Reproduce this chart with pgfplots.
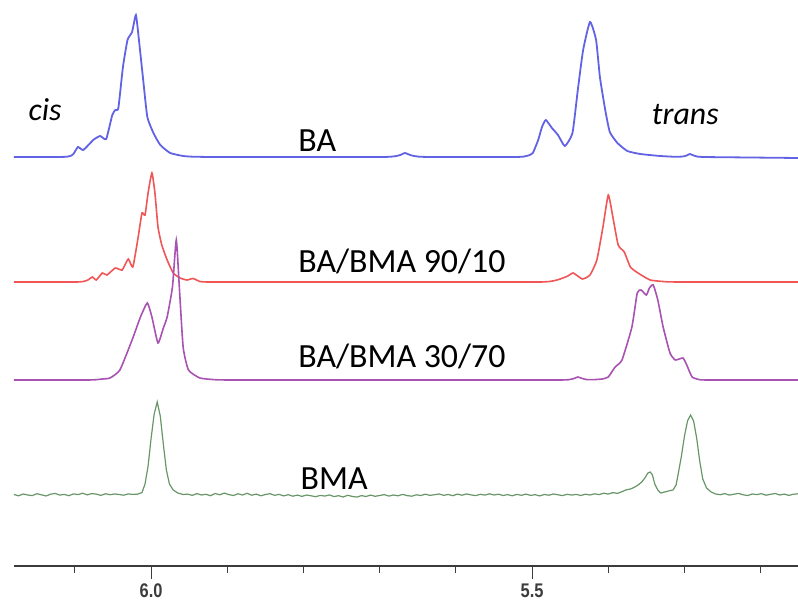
\documentclass[border=0pt]{standalone}
\usepackage{fontspec}
\setmainfont{Carlito}
\newfontfamily\tickfont{Liberation Sans}
\usepackage{graphicx}
\usepackage{pgfplots}
\pgfplotsset{compat=1.18}

\definecolor{baBlue}{RGB}{98,98,228}
\definecolor{mixRed}{RGB}{240,86,86}
\definecolor{mixPurple}{RGB}{168,82,178}
\definecolor{bmaGreen}{RGB}{104,150,104}
\definecolor{axisGrey}{RGB}{60,60,60}

\begin{document}
\begin{tikzpicture}
\useasboundingbox (-14bp,-38bp) rectangle (784bp,566bp);
\begin{axis}[
  at={(0,0)}, anchor=south west,
  scale only axis, width=784bp, height=566bp,
  xmin=5.151, xmax=6.180, ymin=0, ymax=566,
  x dir=reverse,
  axis x line=bottom, axis y line=none,
  x axis line style={-, draw=axisGrey, line width=1.3bp},
  xtick={6.0,5.5},
  xticklabels={\scalebox{1}[1.2]{6.0},\scalebox{1}[1.2]{5.5}},
  minor xtick={6.1,5.9,5.8,5.7,5.6,5.4,5.3,5.2},
  tick align=outside,
  major tick length=13bp, minor tick length=7bp,
  every tick/.style={draw=axisGrey, line width=1bp},
  xticklabel style={font=\tickfont\bfseries\fontsize{16.5}{16.5}\selectfont, text=axisGrey, inner sep=0pt, anchor=north, yshift=-5bp},
  clip=true,
]

% BA
\addplot[baBlue, line width=1.8bp, smooth, tension=0.3] coordinates {
(6.180,409) (6.146,409) (6.124,409) (6.112,409.2) (6.106,410) (6.102,412) (6.096,419) (6.089,416)
(6.076,426) (6.067,430) (6.059,427) (6.051,451) (6.047,456) (6.043,458)
(6.037,499) (6.031,526) (6.025,534) (6.020,551) (6.016,526) (6.010,483)
(6.005,449) (5.997,433) (5.988,421) (5.975,413) (5.958,410) (5.945,409.3) (5.920,409)
(5.860,409) (5.760,409) (5.715,409) (5.695,409) (5.685,409.3) (5.678,410) (5.673,411) (5.667,413)
(5.660,411) (5.655,410) (5.648,409.3) (5.635,409) (5.600,409) (5.545,409) (5.522,409) (5.512,409.3)
(5.505,410.5) (5.499,413) (5.492,426) (5.487,439) (5.482,446) (5.474,438) (5.466,431)
(5.457,420) (5.447,433) (5.440,476) (5.433,516) (5.424,544) (5.416,526)
(5.411,489) (5.404,456) (5.398,434) (5.388,423) (5.375,415) (5.358,412)
(5.332,410) (5.312,409.2) (5.302,409.5) (5.297,410.5) (5.293,412) (5.288,410.5) (5.283,409.4)
(5.275,409) (5.255,408.8) (5.215,408.5) (5.151,408)
};

% BA/BMA 90/10
\addplot[mixRed, line width=1.6bp, smooth, tension=0.3] coordinates {
(6.180,284) (6.140,284) (6.112,284) (6.097,284) (6.089,284.5) (6.083,286) (6.077,289) (6.072,286) (6.064,293)
(6.058,291) (6.047,298) (6.038,296) (6.030,307) (6.024,299) (6.017,329)
(6.012,353) (6.008,351) (6.004,373) (5.999,393) (5.995,373) (5.991,339)
(5.986,321) (5.979,306) (5.971,293) (5.962,288) (5.953,286) (5.945,287.5)
(5.936,284.5) (5.926,284) (5.905,284) (5.860,284) (5.750,284) (5.620,284) (5.545,284)
(5.505,284) (5.488,284) (5.477,284.5) (5.470,285.5) (5.463,287) (5.453,290) (5.446,293) (5.434,287)
(5.424,291) (5.415,306) (5.407,339) (5.400,371) (5.394,349) (5.387,321)
(5.379,314) (5.371,299) (5.361,293) (5.345,286) (5.325,284.3) (5.310,284) (5.285,284)
(5.240,284) (5.151,284)
};

% BA/BMA 30/70
\addplot[mixPurple, line width=1.6bp, smooth, tension=0.3] coordinates {
(6.180,186) (6.130,186) (6.098,186) (6.082,186) (6.072,186.3) (6.064,187) (6.054,188) (6.041,196) (6.025,226) (6.014,249)
(6.005,263) (5.999,249) (5.991,223) (5.984,238) (5.979,249) (5.972,279)
(5.967,326) (5.963,279) (5.958,219) (5.951,196) (5.936,188) (5.916,186.3) (5.900,186)
(5.870,186) (5.800,186) (5.680,186) (5.580,186) (5.510,186) (5.478,186) (5.462,186)
(5.452,186.3) (5.445,187.5) (5.440,189) (5.434,187.5) (5.429,186.5) (5.420,186.3) (5.408,187)
(5.400,189) (5.391,199) (5.382,206)
(5.369,239) (5.362,273) (5.357,276) (5.350,271) (5.346,278) (5.341,281)
(5.335,266) (5.328,239) (5.319,213) (5.312,206) (5.302,208) (5.297,201)
(5.290,189) (5.280,186.3) (5.270,186) (5.252,186) (5.215,186) (5.151,186)
};

% BMA
\addplot[bmaGreen, line width=1.2bp] coordinates {
(6.180,71.5) (6.174,70.2) (6.168,72.0) (6.162,71.0) (6.156,70.4) (6.150,72.3)
(6.144,71.2) (6.138,70.0) (6.132,71.8) (6.126,72.6) (6.120,70.9) (6.114,71.6)
(6.108,70.3) (6.102,72.1) (6.096,71.4) (6.090,72.8) (6.084,71.1) (6.078,72.4)
(6.072,71.9) (6.066,70.6) (6.060,72.2) (6.054,71.3) (6.048,72.0) (6.042,71.5)
(6.036,70.8) (6.030,72.1) (6.024,71.6) (6.018,71.8)
(6.012,73.5) (6.008,82) (6.004,100) (6.000,128) (5.996,152) (5.992,164)
(5.988,150) (5.984,122) (5.980,96) (5.976,82) (5.971,76) (5.965,73) (5.958,71.5)
(5.952,71.9) (5.946,70.6) (5.940,72.4) (5.934,71.0) (5.928,71.7) (5.922,70.3)
(5.916,72.5) (5.910,71.2) (5.904,72.9) (5.898,71.4) (5.892,70.5) (5.886,72.2)
(5.880,71.0) (5.874,72.7) (5.868,70.8) (5.862,71.9) (5.856,70.2) (5.850,71.5)
(5.844,72.3) (5.838,70.7) (5.832,71.6) (5.826,70.1) (5.820,71.3) (5.814,69.8)
(5.808,70.9) (5.802,69.6) (5.796,71.0) (5.790,70.2) (5.784,69.3) (5.778,70.6)
(5.772,69.9) (5.766,71.1) (5.760,69.4) (5.754,70.3) (5.748,69.0) (5.742,70.7)
(5.736,69.6) (5.730,68.9) (5.724,70.4) (5.718,69.5) (5.712,70.9) (5.706,69.7)
(5.700,70.5) (5.694,71.4) (5.688,69.9) (5.682,71.0) (5.676,70.2) (5.670,71.6)
(5.664,70.4) (5.658,69.8) (5.652,71.2) (5.646,70.5) (5.640,71.8) (5.634,70.6)
(5.628,71.3) (5.622,72.0) (5.616,70.7) (5.610,71.5) (5.604,70.3) (5.598,71.9)
(5.592,70.8) (5.586,72.1) (5.580,71.1) (5.574,70.4) (5.568,71.7) (5.562,70.9)
(5.556,72.2) (5.550,71.0) (5.544,71.8) (5.538,70.5) (5.532,71.4) (5.526,70.2)
(5.520,71.6) (5.514,70.7) (5.508,71.9) (5.502,70.6) (5.496,71.3) (5.490,70.1)
(5.484,71.5) (5.478,70.8) (5.472,72.0) (5.466,71.2) (5.460,70.4) (5.454,71.7)
(5.448,70.9) (5.442,71.6) (5.436,70.5) (5.430,71.8) (5.424,71.0) (5.418,72.2)
(5.412,71.4) (5.406,72.8) (5.400,71.9) (5.394,73.4) (5.388,72.6) (5.382,74.3)
(5.377,76) (5.370,77.2) (5.364,79.5) (5.361,81) (5.356,84) (5.352,88)
(5.348,93) (5.345,94) (5.342,91) (5.339,82) (5.335,76) (5.331,73)
(5.326,74) (5.321,75) (5.315,76) (5.311,81) (5.308,93) (5.304,110)
(5.300,130) (5.296,145) (5.292,151) (5.288,145) (5.284,128) (5.280,105)
(5.276,87) (5.271,78) (5.265,74) (5.259,72)
(5.253,71.3) (5.247,72.4) (5.241,70.9) (5.235,71.8) (5.229,72.6) (5.223,71.2)
(5.217,70.5) (5.211,72.0) (5.205,71.4) (5.199,72.3) (5.193,70.8) (5.187,71.7)
(5.181,72.5) (5.175,71.0) (5.169,71.9) (5.163,70.6) (5.157,71.8) (5.151,72.2)
};

% sample names and isomer labels
\begin{scope}[every node/.style={inner sep=0pt, anchor=base west, font=\fontsize{34}{40}\selectfont}]
\node at (axis cs:5.807,414) {BA};
\node at (axis cs:5.807,293) {BA/BMA 90/10};
\node at (axis cs:5.807,198) {BA/BMA 30/70};
\node at (axis cs:5.804,76) {BMA};
\end{scope}
\begin{scope}[every node/.style={inner sep=0pt, anchor=base west, font=\fontsize{32}{38}\selectfont\itshape}]
\node at (axis cs:6.161,445) {cis};
\node at (axis cs:5.343,441) {trans};
\end{scope}
\end{axis}
\end{tikzpicture}
\end{document}
